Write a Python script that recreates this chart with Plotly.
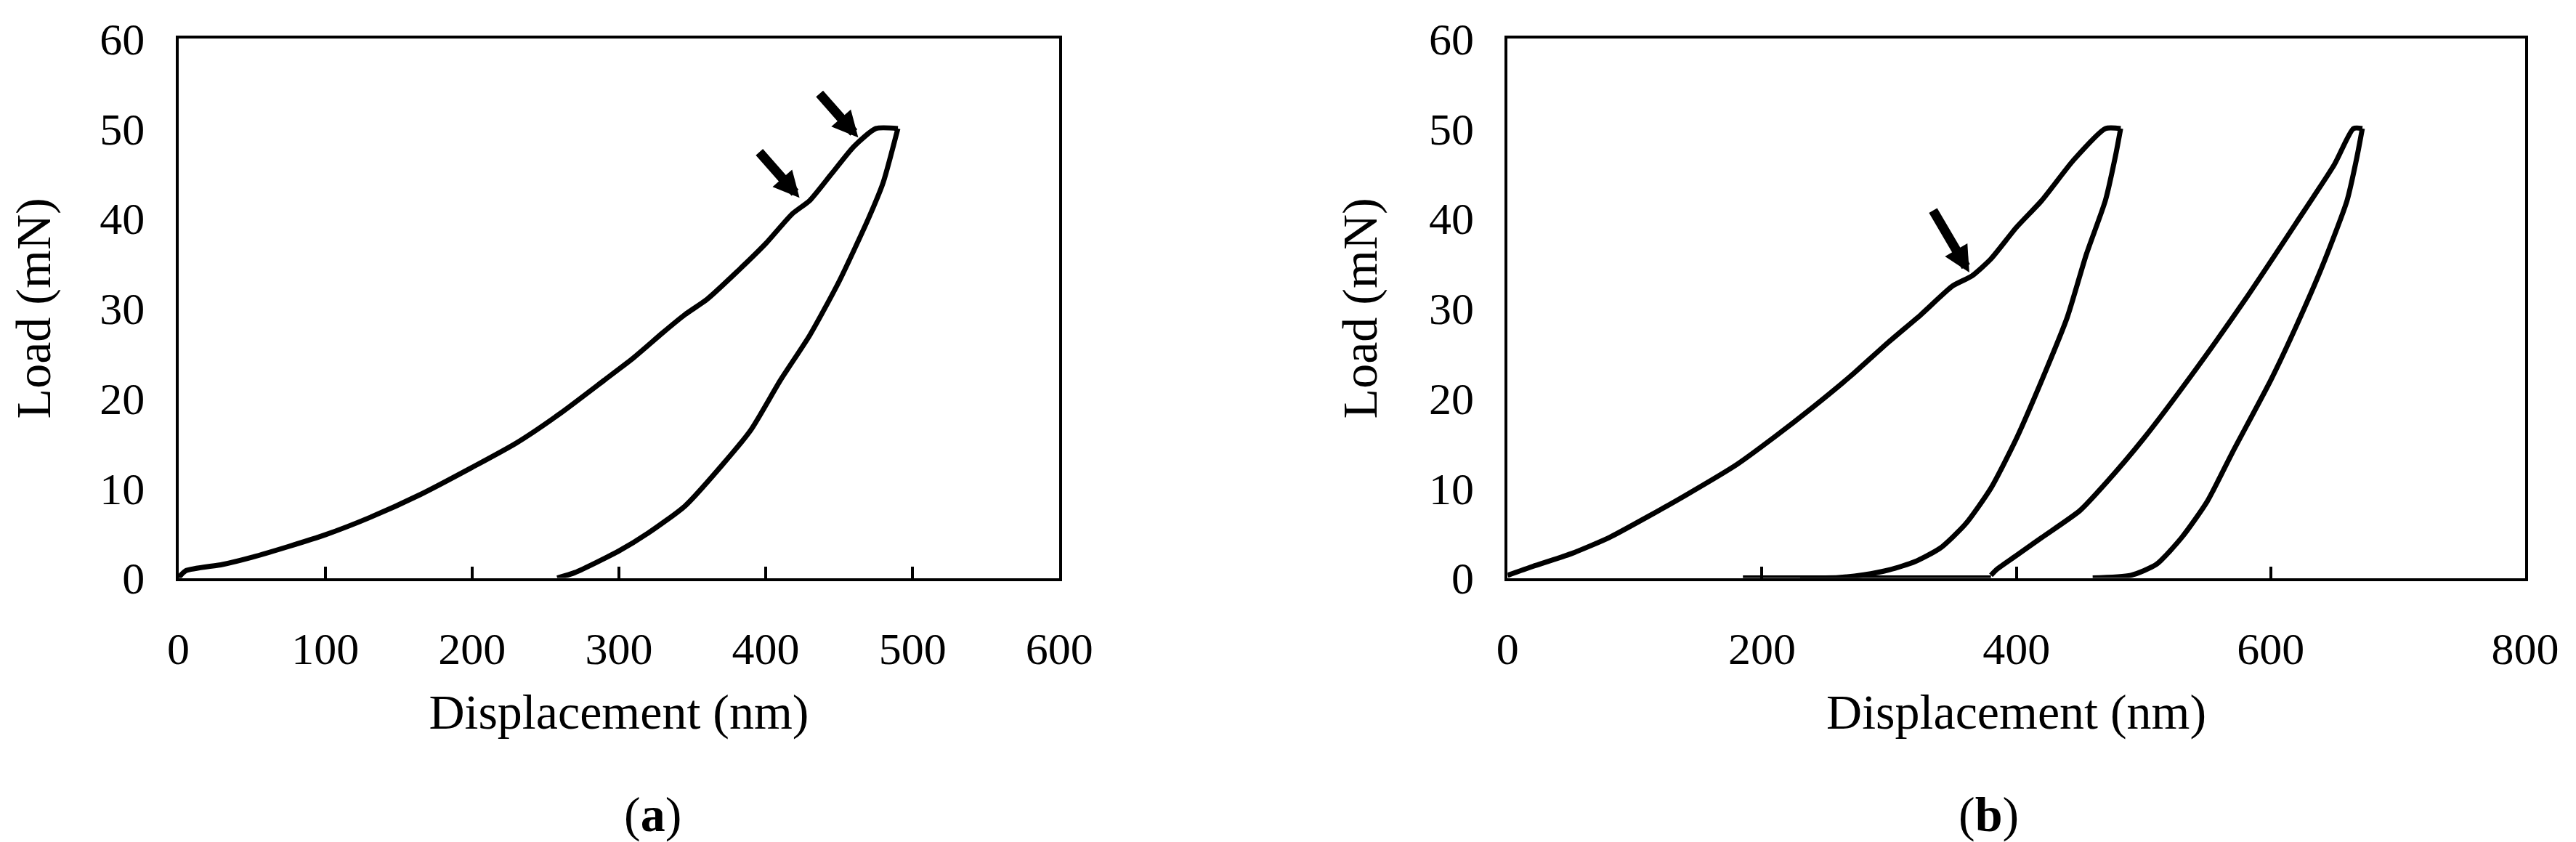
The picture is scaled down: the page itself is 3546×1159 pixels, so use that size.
import plotly.graph_objects as go

a_load_x = [0,5,30,50,75,100,130,165,200,230,260,290,310,330,345,360,380,400,418,430,445,460,475,490]
a_load_y = [0,0.8,1.5,2.3,3.5,4.8,6.7,9.3,12.3,15,18.3,22,24.5,27.3,29.3,31,34,37.2,40.5,42,45,48,50,50]
a_unl_x = [490,480,470,450,430,410,390,370,345,320,300,270,258]
a_unl_y = [50,44,40,33,27,22,16.5,12.5,8,5,3,0.6,0]

b_l1_x = [0,20,50,80,110,140,180,210,240,270,300,325,350,365,380,400,420,445,470,482]
b_l1_y = [0.3,1.3,2.7,4.5,6.8,9.2,12.6,15.7,19,22.5,26.3,29.3,32.5,33.6,35.5,39,42,46.5,50,50]
b_u1_x = [482,478,470,455,440,420,400,380,360,340,320,300,280,260,230]
b_u1_y = [50,47,42,36,29,22,15.5,10,6,3.3,1.8,0.9,0.35,0.05,0]
b_flat_x = [185,380]
b_flat_y = [0,0]
b_l2_x = [380,385,400,420,450,470,500,540,580,620,650,665,672]
b_l2_y = [0.3,1,2.5,4.5,7.5,10.5,15.5,23,31,39.5,46,50,50]
b_u2_x = [672,668,660,640,620,600,570,550,530,510,490,460]
b_u2_y = [50,47,42,34.5,28,22,14,8.5,4.5,1.5,0.3,0]

a_xticks = [0,100,200,300,400,500,600]
b_xticks = [0,200,400,600,800]
y_ticks = [0,10,20,30,40,50,60]

FONT = "Liberation Serif"
fig = go.Figure()
line = dict(color="black", width=7, shape="spline", smoothing=0.6)
for xs, ys in [(a_load_x,a_load_y),(a_unl_x,a_unl_y)]:
    fig.add_trace(go.Scatter(x=xs, y=ys, mode="lines", line=line, xaxis="x", yaxis="y", showlegend=False))
for xs, ys in [(b_l1_x,b_l1_y),(b_u1_x,b_u1_y),(b_flat_x,b_flat_y),(b_l2_x,b_l2_y),(b_u2_x,b_u2_y)]:
    fig.add_trace(go.Scatter(x=xs, y=ys, mode="lines", line=line, xaxis="x2", yaxis="y2", showlegend=False))

def xa(rng, ticks, dom):
    return dict(domain=dom, range=rng, tickvals=ticks, ticks="inside", ticklen=16, tickwidth=4,
                tickcolor="black", showline=True, linewidth=4, linecolor="black", mirror=True,
                showgrid=False, zeroline=False, automargin=False,
                tickfont=dict(family=FONT, size=62, color="black"),
                title=dict(text="Displacement (nm)", font=dict(family=FONT, size=68, color="black"), standoff=30),
                ticklabelstandoff=40)
def ya(anchor):
    return dict(domain=[0.3205,0.961], range=[0,60], tickvals=y_ticks, ticks="", showline=True,
                linewidth=4, linecolor="black", mirror=True, showgrid=False, zeroline=False, automargin=False,
                anchor=anchor, tickfont=dict(family=FONT, size=62, color="black"), ticklabelstandoff=30,
                title=dict(text="Load (mN)", font=dict(family=FONT, size=68, color="black"), standoff=50))

fig.update_layout(
    width=3546, height=1159, margin=dict(l=0,r=0,t=0,b=0),
    paper_bgcolor="white", plot_bgcolor="white",
    xaxis=xa([0,600], a_xticks, [0.067,0.409]) | dict(anchor="y"),
    yaxis=ya("x"),
    xaxis2=xa([0,800], b_xticks, [0.583,0.978]) | dict(anchor="y2"),
    yaxis2=ya("x2"),
)

arrows = [("x","y",423,42.3,395,47.5),("x","y",463,49,436,54),("x2","y2",363,34,334,41)]
for xr, yr, x, y, ax, ay in arrows:
    fig.add_annotation(x=x, y=y, ax=ax, ay=ay, xref=xr, yref=yr, axref=xr, ayref=yr,
                       showarrow=True, arrowhead=2, arrowsize=0.55, arrowwidth=13, arrowcolor="black", text="")

for txt, xc in [("(<b>a</b>)", 0.2395), ("(<b>b</b>)", 0.782)]:
    fig.add_annotation(text=txt, x=xc, y=0.04, xref="paper", yref="paper", showarrow=False,
                       font=dict(family=FONT, size=68, color="black"), yanchor="middle")

fig.write_html("out.html")
